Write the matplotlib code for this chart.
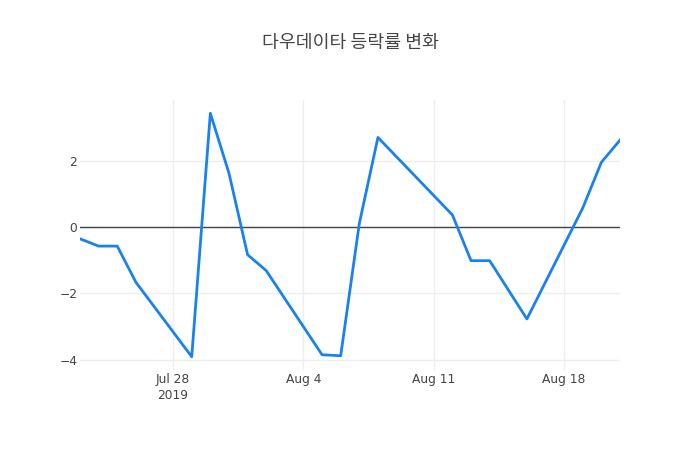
import datetime as dt
import matplotlib
matplotlib.use("Agg")
import matplotlib.pyplot as plt

# data
dates = ["2019-07-23", "2019-07-24", "2019-07-25", "2019-07-26", "2019-07-29",
         "2019-07-30", "2019-07-31", "2019-08-01", "2019-08-02", "2019-08-05",
         "2019-08-06", "2019-08-07", "2019-08-08", "2019-08-12", "2019-08-13",
         "2019-08-14", "2019-08-16", "2019-08-19", "2019-08-20", "2019-08-21"]
rates = [-0.35, -0.57, -0.57, -1.66, -3.91,
         3.44, 1.63, -0.83, -1.31, -3.85,
         -3.88, 0.11, 2.71, 0.37, -1.01,
         -1.01, -2.77, 0.58, 1.96, 2.63]
tick_dates = ["2019-07-28", "2019-08-04", "2019-08-11", "2019-08-18"]
tick_labels = ["Jul 28\n2019", "Aug 4", "Aug 11", "Aug 18"]
y_ticks = [-4, -2, 0, 2]
title = "다우데이타 등락률 변화"

x = [dt.datetime.strptime(d, "%Y-%m-%d") for d in dates]
xt = [dt.datetime.strptime(d, "%Y-%m-%d") for d in tick_dates]

plt.rcParams['font.family'] = ['DejaVu Sans']
fig = plt.figure(figsize=(7, 4.5), dpi=100)
ax = fig.add_axes([80 / 700, 80 / 450, 540 / 700, 270 / 450])

ax.plot(x, rates, color='#1a82ee', lw=2, zorder=3)
ax.axhline(0, color='#444444', lw=1, zorder=2)

ax.set_xlim(x[0], x[-1])
ax.set_ylim(-4.31, 3.84)
ax.set_xticks(xt)
ax.set_xticklabels(tick_labels, linespacing=1.35)
ax.set_yticks(y_ticks)
ax.set_yticklabels(["\u22124", "\u22122", "0", "2"])
ax.grid(True, color='#eeeeee', lw=1, zorder=0)
for s in ax.spines.values():
    s.set_visible(False)
ax.tick_params(length=0, labelsize=8.8, labelcolor='#444444', pad=2)
ax.tick_params(axis='x', pad=2)

fig.text(0.5, 1 - 43 / 450, title, ha='center', va='center', fontsize=13.2,
         color='#444444', family=['Noto Sans CJK KR', 'DejaVu Sans'])

fig.savefig("out.png", dpi=100)
